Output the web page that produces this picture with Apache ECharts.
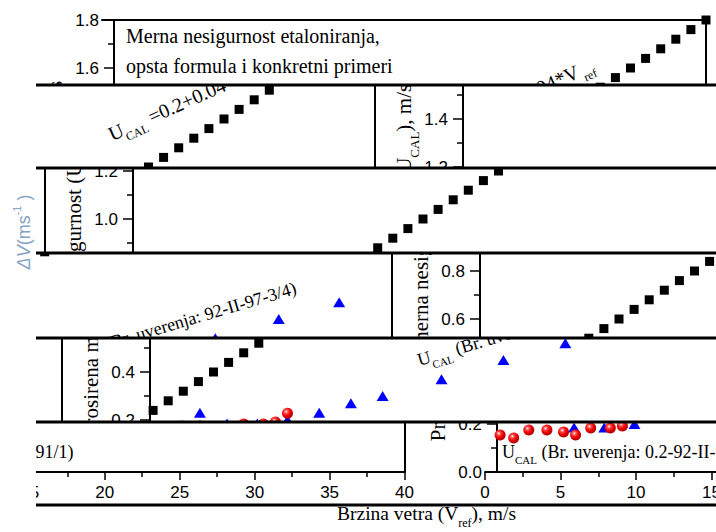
<!DOCTYPE html>
<html><head><meta charset="utf-8">
<script src="https://cdn.jsdelivr.net/npm/echarts@6/dist/echarts.min.js"></script>
<style>
html,body{margin:0;padding:0;background:#fff;width:716px;height:532px;overflow:hidden;position:relative}
.band{position:absolute;left:36px;width:680px;overflow:hidden}
.copy{position:absolute;width:680px;height:540px}
#overlay{position:absolute;left:0;top:0;width:716px;height:532px;z-index:5}
</style></head><body>
<div id="overlay"></div>
<script>
// ---------------- data ----------------
const xTickValues = [0, 5, 10, 15, 20, 25, 30, 35, 40];
const yTickValues = [0.0, 0.2, 0.4, 0.6, 0.8, 1.0, 1.2, 1.4, 1.6, 1.8];
// black squares: U_CAL = 0.2 + 0.04*V_ref
const squareV = [1,2,3,4,5,6,7,8,9,10,11,12,13,14,15,16,17,18,19,20,21,22,23,24,25,26,27,28,29,30,31,32,33,34,35,36,37,38,39,40];
const squareU = [0.24,0.28,0.32,0.36,0.40,0.44,0.48,0.52,0.56,0.60,0.64,0.68,0.72,0.76,0.80,0.84,0.88,0.92,0.96,1.00,1.04,1.08,1.12,1.16,1.20,1.24,1.28,1.32,1.36,1.40,1.44,1.48,1.52,1.56,1.60,1.64,1.68,1.72,1.76,1.80];
// blue triangles: Br. uverenja 92-II-97-3/4
const triangleV = [4.1, 5.9, 7.9, 9.9, 12.0, 14.1, 16.2, 20.1, 24.2, 28.3, 32.5, 36.5];
const triangleU = [0.23, 0.185, 0.185, 0.20, 0.23, 0.27, 0.30, 0.37, 0.45, 0.52, 0.60, 0.67];
// red spheres: Br. uverenja 0.2-92-II-91/1
const circleV = [1.0, 1.9, 2.9, 4.1, 5.2, 6.0, 7.0, 8.3, 9.1, 9.9];
const circleU = [0.154, 0.142, 0.175, 0.175, 0.167, 0.154, 0.183, 0.183, 0.192, 0.228];

// ---------------- layout of the shifted strips ----------------
const bandTop    = [0, 85, 168, 253, 338, 422, 505];
const bandBottom = [85, 168, 253, 338, 422, 505, 532];
const bandShiftX = [-2, 347, 17, 364, 34, 381, 51];
const bandShiftY = [0, 3, 7, 11, 15.5, 20, 10];
const stripLinesY = [85, 168, 253, 338, 422, 505];

const SERIF = '"Liberation Serif","Times New Roman",Times,serif';
const SANS = '"Liberation Sans",Arial,Helvetica,sans-serif';
const GRID = {left:68, top:20, width:604, height:432};
const X_MAX = 40, Y_MAX = 1.8;

function richSet(fs){
  const sub = Math.round(fs*0.6);
  return {
    n:{fontSize:fs,fontFamily:SERIF,fill:'#000',lineHeight:fs+4,verticalAlign:'top'},
    s:{fontSize:sub,fontFamily:SERIF,fill:'#000',lineHeight:sub+2,padding:[Math.round(fs*0.65),0,0,0],verticalAlign:'top'}
  };
}
// text anchored at baseline-left of first glyph, rotated by deg (counter-clockwise)
function baseText(richStr, fs, x, y, deg){
  const off = (fs+4)/2 + 0.34*fs;
  return {type:'text', x:x, y:y, rotation:deg*Math.PI/180, silent:true,
    style:{text:richStr, rich:richSet(fs), x:0, y:-off,
      align:'left', verticalAlign:'top', textAlign:'left', textVerticalAlign:'top'}};
}

// annotation texts with their rough extents in chart pixels [x0,y0,x1,y1]
const annotations = [
  {box:[88,20,360,82], el:{type:'text', x:92, y:21.5, silent:true, style:{text:'Merna nesigurnost etaloniranja,\nopsta formula i konkretni primeri',
      fontSize:20, fontFamily:SERIF, fill:'#000', lineHeight:29.5, align:'left', verticalAlign:'top', textAlign:'left', textVerticalAlign:'top'}}},
  {box:[400,55,580,150], el:baseText('{n|U}{s|CAL}{n| =0.2+0.04*V}{s| ref}', 20, 410, 140, 24)},
  {box:[340,260,600,362], el:baseText('{n|U}{s|CAL}{n| (Br. uverenja: 92-II-97-3/4)}', 18, 350, 352, 16.5)},
  {box:[80,420,350,452], el:baseText('{n|U}{s|CAL}{n| (Br. uverenja: 0.2-92-II-91/1)}', 18, 85, 440, 0)},
  {box:[245,492,450,530], el:baseText('{n|Brzina vetra (V}{s|ref}{n|), m/s}', 19.5, 250, 512, 0)},
  {box:[8,70,40,435], el:{type:'text', x:23.4, y:251, rotation:Math.PI/2, silent:true,
      style:{text:'{n|Prosirena merna nesigurnost (U}{s|CAL}{n|), m/s}', rich:richSet(21),
        align:'center', verticalAlign:'middle', textAlign:'center', textVerticalAlign:'middle'}}}
];

const sphere = {type:'radial', x:0.38, y:0.35, r:0.65, colorStops:[
  {offset:0, color:'#ffffff'}, {offset:0.25, color:'#ff5050'}, {offset:0.6, color:'#ee0000'}, {offset:1, color:'#b00000'}]};

function hit(a, v){ return a[0] < v[2] && a[2] > v[0] && a[1] < v[3] && a[3] > v[1]; }

function buildOption(vis){
  const axisLineStyle = {color:'#000', width:2};
  const yLab = v => {
    const y = GRID.top + GRID.height*(1 - v/Y_MAX);
    return hit([36, y-10, 68, y+10], vis) ? v.toFixed(1) : '';
  };
  const xLab = v => {
    const x = GRID.left + GRID.width*v/X_MAX;
    const y = GRID.top + GRID.height;
    return hit([x-12, y+12, x+12, y+32], vis) ? String(v) : '';
  };
  return {
    animation:false,
    backgroundColor:'transparent',
    grid:Object.assign({containLabel:false}, GRID),
    xAxis:[{
      type:'value', min:xTickValues[0], max:X_MAX, interval:5, position:'bottom',
      axisLine:{show:true, onZero:false, lineStyle:axisLineStyle},
      axisTick:{show:true, inside:false, length:8, lineStyle:{color:'#000', width:1.5}},
      minorTick:{show:true, splitNumber:2, length:5, lineStyle:{color:'#000', width:1.5}},
      axisLabel:{color:'#000', fontFamily:SANS, fontSize:17, margin:12, formatter:xLab},
      splitLine:{show:false}, minorSplitLine:{show:false}
    },{
      type:'value', min:0, max:X_MAX, position:'top',
      axisLine:{show:true, onZero:false, lineStyle:axisLineStyle},
      axisTick:{show:false}, axisLabel:{show:false}, splitLine:{show:false}
    }],
    yAxis:[{
      type:'value', min:yTickValues[0], max:Y_MAX, interval:0.2, position:'left', offset:-12,
      axisLine:{show:true, onZero:false, lineStyle:axisLineStyle},
      axisTick:{show:true, inside:false, length:10, lineStyle:{color:'#000', width:1.5}},
      minorTick:{show:true, splitNumber:2, length:6, lineStyle:{color:'#000', width:1.5}},
      axisLabel:{color:'#000', fontFamily:SANS, fontSize:17, margin:15, formatter:yLab},
      splitLine:{show:false}, minorSplitLine:{show:false}
    },{
      type:'value', min:0, max:Y_MAX, position:'right',
      axisLine:{show:true, onZero:false, lineStyle:axisLineStyle},
      axisTick:{show:false}, axisLabel:{show:false}, splitLine:{show:false}
    }],
    series:[
      {type:'scatter', silent:true, symbol:'rect', symbolSize:9, itemStyle:{color:'#000', opacity:1}, z:2,
       data:squareV.map((v,i)=>[v, squareU[i]])},
      {type:'scatter', silent:true, symbol:'triangle', symbolSize:[12,10], itemStyle:{color:'#0000ff', opacity:1}, z:3,
       data:triangleV.map((v,i)=>[v, triangleU[i]])},
      {type:'scatter', silent:true, symbol:'circle', symbolSize:11, itemStyle:{color:sphere, opacity:1}, z:4,
       data:circleV.map((v,i)=>[v, circleU[i]])}
    ],
    graphic: annotations.filter(a=>hit(a.box, vis)).map(a=>a.el)
  };
}

// ---------------- build the strips ----------------
for (let k=0; k<bandTop.length; k++){
  const band = document.createElement('div');
  band.className = 'band';
  band.style.top = bandTop[k]+'px';
  band.style.height = (bandBottom[k]-bandTop[k])+'px';
  document.body.appendChild(band);
  const s = bandShiftX[k];
  const lefts = s >= 0 ? [s, s-680] : [s, s+680];
  lefts.forEach(l=>{
    const c = document.createElement('div');
    c.className = 'copy';
    c.style.left = l+'px';
    const topOff = bandShiftY[k]-bandTop[k];
    c.style.top = topOff+'px';
    band.appendChild(c);
    // visible part of this copy, in chart pixels
    const vis = [Math.max(0,-l), -topOff, Math.min(680, 680-l), -topOff + (bandBottom[k]-bandTop[k])];
    const ch = echarts.init(c, null, {renderer:'svg', width:680, height:540});
    ch.setOption(buildOption(vis));
  });
}

// ---------------- overlay: strip borders and stray left text ----------------
const ov = echarts.init(document.getElementById('overlay'), null, {renderer:'svg', width:716, height:532});
ov.setOption({
  animation:false,
  graphic: stripLinesY.map(y=>({type:'line', silent:true, shape:{x1:36, y1:y, x2:716, y2:y}, style:{stroke:'#000', lineWidth:3}}))
   .concat([{type:'text', x:22, y:232, rotation:Math.PI/2, silent:true,
     style:{text:'{i|ΔV}{n|(ms}{p|-1}{n| )}', align:'center', verticalAlign:'middle', textAlign:'center', textVerticalAlign:'middle',
       rich:{i:{fontSize:18, fontStyle:'italic', fontFamily:SANS, fill:'#86a3c6', lineHeight:22, verticalAlign:'bottom'},
             n:{fontSize:18, fontFamily:SANS, fill:'#86a3c6', lineHeight:22, verticalAlign:'bottom'},
             p:{fontSize:11, fontFamily:SANS, fill:'#86a3c6', lineHeight:11, verticalAlign:'top'}}}}])
});
</script>
</body></html>
